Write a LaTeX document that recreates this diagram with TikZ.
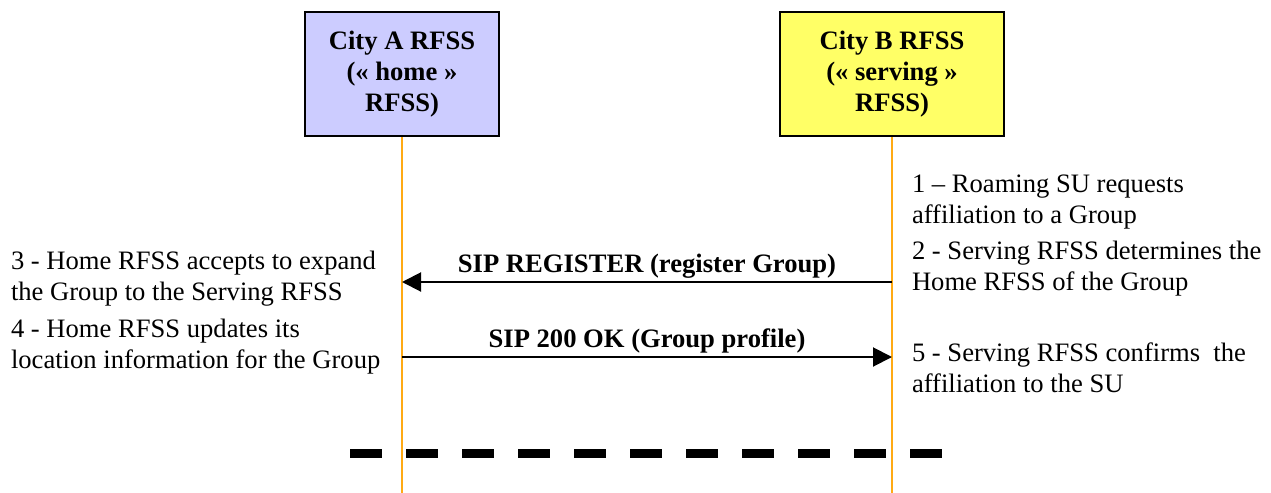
\documentclass[tikz,border=0pt]{standalone}
\usepackage{fontspec}
\setmainfont{Liberation Serif}
\usetikzlibrary{arrows.meta}
\definecolor{homeblue}{RGB}{204,204,255}
\definecolor{servyellow}{RGB}{255,255,102}
\definecolor{lifeorange}{RGB}{255,170,20}
\begin{document}
\begin{tikzpicture}[x=0.5pt, y=-0.5pt, line width=1pt,
  rfss/.style = {draw, line width=1.2pt, minimum height=62pt, align=center, font=\fontsize{13.3}{15.5}\selectfont\bfseries},
  life/.style = {draw=lifeorange, line width=1pt},
  msg/.style = {draw, line width=1pt, -{Triangle[length=9.5pt,width=9.5pt]}},
  lbl/.style = {midway, above, inner sep=1.5pt, font=\fontsize{13.3}{15.5}\selectfont\bfseries},
  note/.style = {align=left, inner sep=0pt, font=\fontsize{13.3}{15.5}\selectfont}]
  \useasboundingbox (0,0) rectangle (1271,493);
  \node[rfss, fill=homeblue, minimum width=97pt] (1) at (402,74) {City A RFSS\\(« home »\\RFSS)};
  \node[rfss, fill=servyellow, minimum width=112pt] (2) at (892,74) {City B RFSS\\(« serving »\\RFSS)};
  \coordinate (1e) at (402,493);
  \coordinate (2e) at (892,493);
  \draw[life] (1.south) -- (1e);
  \draw[life] (2.south) -- (2e);
  \coordinate (3) at (892,282);
  \coordinate (4) at (402,282);
  \coordinate (5) at (402,357);
  \coordinate (6) at (892,357);
  \draw[msg] (3) -- node[lbl] {SIP REGISTER (register Group)} (4);
  \draw[msg] (5) -- node[lbl] {SIP 200 OK (Group profile)} (6);
  % base anchor sits on the last line
  \node[note, anchor=base west] (7) at (911,223) {1 -- Roaming SU requests\\affiliation to a Group};
  \node[note, anchor=base west] (8) at (911,290) {2 - Serving RFSS determines the\\Home RFSS of the Group};
  \node[note, anchor=base west] (9) at (911,392) {5 - Serving RFSS confirms~ the\\affiliation to the SU};
  \node[note, anchor=base west] (10) at (10,300) {3 - Home RFSS accepts to expand\\the Group to the Serving RFSS};
  \node[note, anchor=base west] (11) at (10,368) {4 - Home RFSS updates its\\location information for the Group};
  \coordinate (12) at (350,453);
  \coordinate (13) at (943,453);
  \draw[line width=4.5pt, dash pattern=on 16pt off 12pt] (12) -- (13);
\end{tikzpicture}
\end{document}
